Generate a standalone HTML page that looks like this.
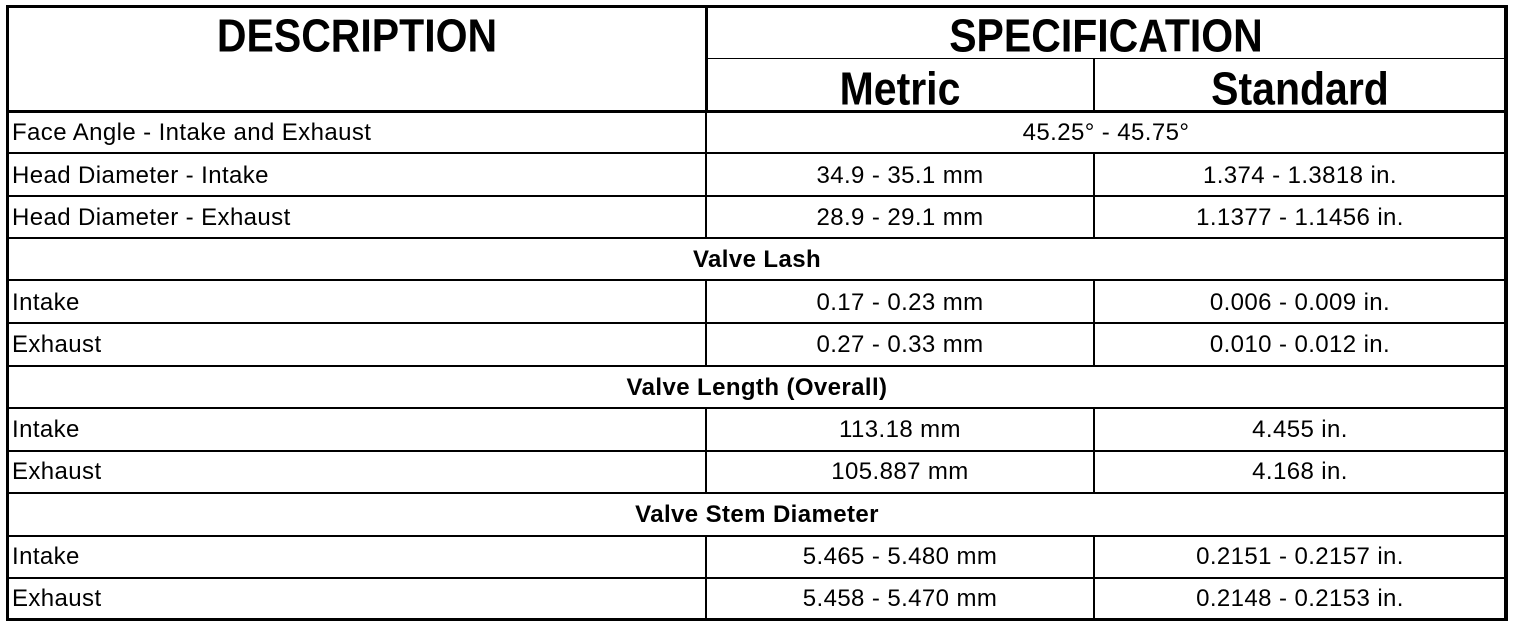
<!DOCTYPE html>
<html><head><style>
body{margin:0;background:#fff;width:1520px;height:628px;position:relative;overflow:hidden;font-family:"Liberation Sans",Arial,sans-serif;color:#000}
.h{position:absolute;background:#000}
.t{position:absolute;font-size:24px;letter-spacing:0.4px;line-height:42px;white-space:nowrap}
.c{text-align:center}
.b{font-weight:bold}
.hd{position:absolute;font-weight:bold;font-size:41px;text-align:center;white-space:nowrap;transform:scaleY(1.12);line-height:46px}
</style></head><body>
<div class="h" style="left:6px;top:5px;width:1502px;height:3px"></div>
<div class="h" style="left:6px;top:618px;width:1502px;height:3px"></div>
<div class="h" style="left:6px;top:5px;width:3px;height:616px"></div>
<div class="h" style="left:1504px;top:5px;width:4px;height:616px"></div>
<div class="h" style="left:706px;top:58px;width:800px;height:1px"></div>
<div class="h" style="left:6px;top:110px;width:1502px;height:3px"></div>
<div class="h" style="left:705px;top:5px;width:3px;height:106px"></div>
<div class="h" style="left:1093px;top:58px;width:2px;height:53px"></div>
<div class="hd" style="left:8px;width:698px;top:13px">DESCRIPTION</div>
<div class="hd" style="left:706px;width:800px;top:13px">SPECIFICATION</div>
<div class="hd" style="left:706px;width:388px;top:66px">Metric</div>
<div class="hd" style="left:1094px;width:412px;top:66px">Standard</div>
<div class="h" style="left:6px;top:152px;width:1502px;height:2px"></div>
<div class="h" style="left:6px;top:195px;width:1502px;height:2px"></div>
<div class="h" style="left:6px;top:237px;width:1502px;height:2px"></div>
<div class="h" style="left:6px;top:279px;width:1502px;height:2px"></div>
<div class="h" style="left:6px;top:322px;width:1502px;height:2px"></div>
<div class="h" style="left:6px;top:365px;width:1502px;height:2px"></div>
<div class="h" style="left:6px;top:407px;width:1502px;height:2px"></div>
<div class="h" style="left:6px;top:450px;width:1502px;height:2px"></div>
<div class="h" style="left:6px;top:492px;width:1502px;height:2px"></div>
<div class="h" style="left:6px;top:535px;width:1502px;height:2px"></div>
<div class="h" style="left:6px;top:577px;width:1502px;height:2px"></div>
<div class="h" style="left:705px;top:111px;width:2px;height:127px"></div>
<div class="h" style="left:1093px;top:153px;width:2px;height:85px"></div>
<div class="h" style="left:705px;top:280px;width:2px;height:86px"></div>
<div class="h" style="left:1093px;top:280px;width:2px;height:86px"></div>
<div class="h" style="left:705px;top:408px;width:2px;height:85px"></div>
<div class="h" style="left:1093px;top:408px;width:2px;height:85px"></div>
<div class="h" style="left:705px;top:536px;width:2px;height:84px"></div>
<div class="h" style="left:1093px;top:536px;width:2px;height:84px"></div>
<div class="t" style="left:12px;top:112px">Face Angle - Intake and Exhaust</div>
<div class="t c" style="left:706px;width:800px;top:112px">45.25° - 45.75°</div>
<div class="t" style="left:12px;top:155px">Head Diameter - Intake</div>
<div class="t c" style="left:706px;width:388px;top:155px">34.9 - 35.1 mm</div>
<div class="t c" style="left:1094px;width:412px;top:155px">1.374 - 1.3818 in.</div>
<div class="t" style="left:12px;top:197px">Head Diameter - Exhaust</div>
<div class="t c" style="left:706px;width:388px;top:197px">28.9 - 29.1 mm</div>
<div class="t c" style="left:1094px;width:412px;top:197px">1.1377 - 1.1456 in.</div>
<div class="t c b" style="left:8px;width:1498px;top:239px">Valve Lash</div>
<div class="t" style="left:12px;top:282px">Intake</div>
<div class="t c" style="left:706px;width:388px;top:282px">0.17 - 0.23 mm</div>
<div class="t c" style="left:1094px;width:412px;top:282px">0.006 - 0.009 in.</div>
<div class="t" style="left:12px;top:324px">Exhaust</div>
<div class="t c" style="left:706px;width:388px;top:324px">0.27 - 0.33 mm</div>
<div class="t c" style="left:1094px;width:412px;top:324px">0.010 - 0.012 in.</div>
<div class="t c b" style="left:8px;width:1498px;top:367px">Valve Length (Overall)</div>
<div class="t" style="left:12px;top:409px">Intake</div>
<div class="t c" style="left:706px;width:388px;top:409px">113.18 mm</div>
<div class="t c" style="left:1094px;width:412px;top:409px">4.455 in.</div>
<div class="t" style="left:12px;top:451px">Exhaust</div>
<div class="t c" style="left:706px;width:388px;top:451px">105.887 mm</div>
<div class="t c" style="left:1094px;width:412px;top:451px">4.168 in.</div>
<div class="t c b" style="left:8px;width:1498px;top:494px">Valve Stem Diameter</div>
<div class="t" style="left:12px;top:536px">Intake</div>
<div class="t c" style="left:706px;width:388px;top:536px">5.465 - 5.480 mm</div>
<div class="t c" style="left:1094px;width:412px;top:536px">0.2151 - 0.2157 in.</div>
<div class="t" style="left:12px;top:578px">Exhaust</div>
<div class="t c" style="left:706px;width:388px;top:578px">5.458 - 5.470 mm</div>
<div class="t c" style="left:1094px;width:412px;top:578px">0.2148 - 0.2153 in.</div>
</body></html>
